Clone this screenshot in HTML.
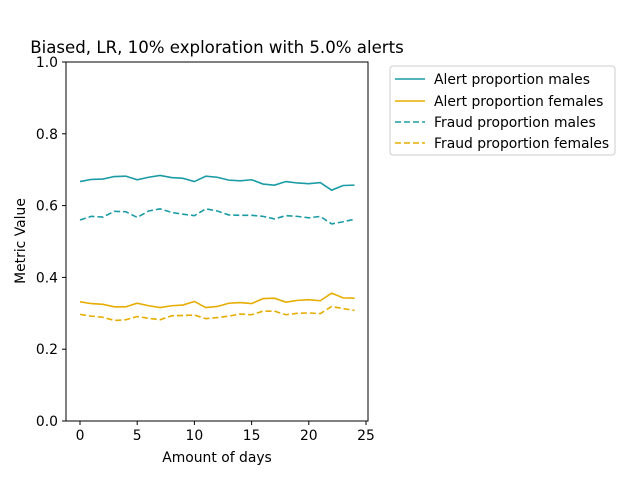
<!DOCTYPE html>
<html><head><meta charset="utf-8"><style>
body{margin:0;background:#fff;font-family:"DejaVu Sans",sans-serif}
svg text{font-family:"DejaVu Sans",sans-serif;fill:#000}
</style></head><body>
<svg id="chart" width="640" height="480" xmlns="http://www.w3.org/2000/svg">
<rect width="640" height="480" fill="#fff"/>
<text x="217" y="53" font-size="16.6" text-anchor="middle">Biased, LR, 10% exploration with 5.0% alerts</text>
<g id="grid"></g>
<rect x="66" y="62" width="302" height="359" fill="none" stroke="#000" stroke-width="1"/>
<text x="217" y="462" font-size="13.9" text-anchor="middle">Amount of days</text>
<text x="25" y="241" font-size="13.9" text-anchor="middle" transform="rotate(-90 25 241)">Metric Value</text>
<g id="series"></g>
<g>
<rect x="390" y="66" width="225" height="89" rx="3" fill="#fff" stroke="#ccc"/>
<g><line x1="395" y1="79" x2="425" y2="79" stroke="#1a9ba5" stroke-width="1.6"/><text x="434" y="84" font-size="13.9">Alert proportion males</text></g>
<g><line x1="395" y1="101" x2="425" y2="101" stroke="#e6ad00" stroke-width="1.6"/><text x="434" y="106" font-size="13.9">Alert proportion females</text></g>
<g><line x1="395" y1="122" x2="425" y2="122" stroke="#1a9ba5" stroke-width="1.6" stroke-dasharray="6,3"/><text x="434" y="127" font-size="13.9">Fraud proportion males</text></g>
<g><line x1="395" y1="143" x2="425" y2="143" stroke="#e6ad00" stroke-width="1.6" stroke-dasharray="6,3"/><text x="434" y="148" font-size="13.9">Fraud proportion females</text></g>
</g>
</svg>
<script>
const days = [0,1,2,3,4,5,6,7,8,9,10,11,12,13,14,15,16,17,18,19,20,21,22,23,24];
const alertMales = [0.667,0.673,0.674,0.681,0.682,0.672,0.679,0.684,0.678,0.676,0.667,0.682,0.679,0.671,0.669,0.672,0.660,0.657,0.667,0.663,0.661,0.664,0.643,0.656,0.657];
const fraudMales = [0.560,0.570,0.568,0.584,0.583,0.567,0.585,0.591,0.581,0.576,0.572,0.591,0.585,0.574,0.573,0.573,0.570,0.563,0.572,0.570,0.566,0.570,0.549,0.555,0.562];
const alertFemales = [0.332,0.327,0.325,0.318,0.318,0.328,0.321,0.316,0.321,0.323,0.333,0.316,0.319,0.328,0.330,0.327,0.341,0.342,0.331,0.336,0.338,0.335,0.356,0.343,0.342];
const fraudFemales = [0.297,0.292,0.289,0.280,0.282,0.291,0.286,0.282,0.293,0.294,0.295,0.285,0.288,0.292,0.298,0.296,0.306,0.306,0.296,0.300,0.301,0.299,0.319,0.313,0.308];
const xTicks = [0,5,10,15,20,25];
const yTicks = [0.0,0.2,0.4,0.6,0.8,1.0];

const NS = "http://www.w3.org/2000/svg";
const X = d => 80 + d * 11.44;
const Y = v => 421 - v * 359;
const grid = document.getElementById('grid');
const series = document.getElementById('series');
function mk(tag, attrs, parent){const e=document.createElementNS(NS,tag);for(const k in attrs)e.setAttribute(k,attrs[k]);parent.appendChild(e);return e;}

xTicks.forEach(t=>{
  const l=mk('line',{x1:X(t),x2:X(t),y1:421,y2:425,stroke:'#000'},grid);
  
  
  const tx=mk('text',{x:X(t),y:440,'font-size':13.9,'text-anchor':'middle'},grid);
  tx.textContent=t;
  
  
});
yTicks.forEach(t=>{
  const l=mk('line',{x1:62,x2:66,y1:Y(t),y2:Y(t),stroke:'#000'},grid);
  
  
  const tx=mk('text',{x:58,y:Y(t)+5,'font-size':13.9,'text-anchor':'end'},grid);
  tx.textContent=t.toFixed(1);
  
  
});
function line(vals,color,dash,name){
  const p=mk('polyline',{points:vals.map((v,i)=>X(days[i])+','+Y(v)).join(' '),fill:'none',stroke:color,'stroke-width':1.6},series);
  if(dash)p.setAttribute('stroke-dasharray','6,3');
  
  
}
line(alertMales,'#1a9ba5',false,'alert-males-line');
line(alertFemales,'#e6ad00',false,'alert-females-line');
line(fraudMales,'#1a9ba5',true,'fraud-males-line');
line(fraudFemales,'#e6ad00',true,'fraud-females-line');
</script>
</body></html>
